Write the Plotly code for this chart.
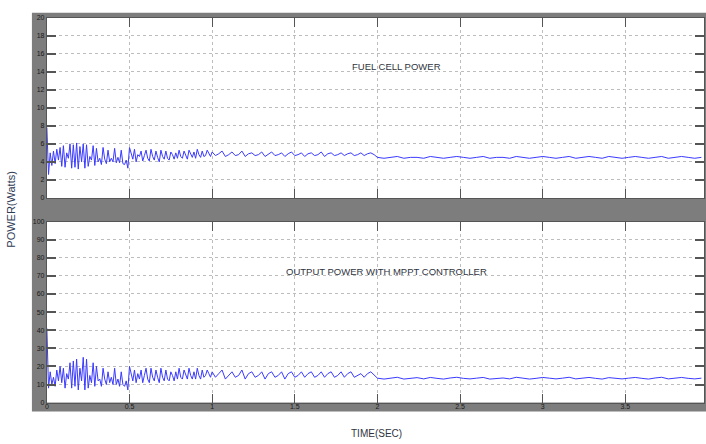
import numpy as np
import plotly.graph_objects as go

# ---- data ----
# segment A: t = 0.00 .. 0.99 step 0.01 ; B: 1.00 .. 1.98 step 0.02 ; C: 2.00 .. 3.96 step 0.04
fc_seg_a = [7.8, 2.6, 5.0, 3.6, 5.2, 3.8, 5.4, 4.2, 5.6, 3.5,
            5.8, 3.4, 5.0, 4.4, 6.0, 3.3, 5.9, 3.4, 6.1, 3.2,
            5.7, 4.0, 6.0, 3.3, 5.9, 3.5, 4.6, 4.2, 5.8, 3.6,
            5.5, 4.0, 4.4, 3.7, 5.6, 4.3, 3.8, 5.3, 4.0, 4.4,
            4.0, 5.5, 3.9, 4.5, 3.9, 5.3, 3.8, 3.7, 4.2, 3.3,
            5.6, 4.8, 4.3, 5.4, 4.0, 4.8, 4.6, 5.2, 4.1, 4.7,
            5.3, 4.4, 4.1, 5.4, 4.6, 4.2, 5.2, 4.5, 4.0, 5.3,
            4.6, 4.3, 5.2, 4.4, 4.2, 5.1, 4.8, 4.3, 5.0, 4.4,
            5.3, 4.6, 4.4, 5.2, 4.7, 4.3, 5.3, 4.9, 4.5, 5.1,
            4.4, 5.4, 4.8, 4.5, 5.2, 4.6, 4.7, 5.3, 4.9, 4.6]
fc_seg_b = [5.1, 4.7, 4.9, 5.2, 4.6, 4.8, 5.1, 4.7, 4.8, 5.2,
            4.6, 4.9, 5.0, 4.7, 4.8, 5.1, 4.6, 4.9, 5.1, 4.7,
            4.8, 5.0, 4.6, 4.9, 5.1, 4.7, 4.8, 5.0, 4.6, 4.9,
            5.0, 4.7, 4.8, 5.1, 4.6, 4.9, 5.0, 4.7, 4.8, 5.0,
            4.7, 4.9, 5.0, 4.7, 4.8, 5.0, 4.7, 4.9, 5.0, 4.8]
fc_seg_c = [4.5, 4.4, 4.5, 4.6, 4.4, 4.5, 4.5, 4.4, 4.6, 4.5,
            4.4, 4.5, 4.6, 4.5, 4.4, 4.5, 4.6, 4.4, 4.5, 4.5,
            4.4, 4.6, 4.5, 4.4, 4.5, 4.6, 4.5, 4.4, 4.5, 4.6,
            4.4, 4.5, 4.6, 4.5, 4.4, 4.6, 4.5, 4.4, 4.5, 4.6,
            4.5, 4.4, 4.5, 4.6, 4.4, 4.5, 4.6, 4.5, 4.4, 4.5]

out_seg_a = [41, 8, 17, 10, 14, 9, 18, 12, 20, 11,
             19, 8, 16, 13, 22, 8, 23, 9, 24, 7,
             19, 12, 25, 7, 24, 8, 15, 11, 22, 9,
             20, 12, 13, 9, 19, 13, 10, 17, 11, 14,
             10, 19, 10, 13, 9, 17, 10, 9, 12, 7,
             20, 15, 12, 18, 11, 16, 13, 18, 11, 15,
             19, 13, 11, 19, 14, 12, 18, 14, 11, 19,
             14, 12, 18, 13, 12, 17, 15, 12, 17, 13,
             19, 14, 13, 18, 15, 13, 19, 15, 13, 17,
             13, 19, 15, 13, 18, 14, 15, 18, 16, 14]
out_seg_b = [17, 14, 16, 18, 13, 15, 17, 14, 15, 18,
             13, 16, 17, 14, 15, 17, 13, 16, 17, 14,
             15, 17, 13, 16, 17, 14, 15, 17, 14, 16,
             17, 14, 15, 17, 14, 16, 17, 14, 15, 17,
             14, 16, 17, 14, 15, 16, 14, 16, 17, 15]
out_seg_c = [13.5, 13.0, 13.5, 14.0, 13.0, 13.5, 13.8, 13.1, 13.9, 13.4,
             13.0, 13.6, 14.0, 13.4, 13.1, 13.5, 13.9, 13.0, 13.5, 13.6,
             13.1, 14.0, 13.5, 13.0, 13.4, 13.9, 13.5, 13.1, 13.5, 14.0,
             13.1, 13.6, 13.9, 13.4, 13.0, 13.8, 13.5, 13.1, 13.5, 13.9,
             13.4, 13.0, 13.6, 14.0, 13.1, 13.5, 13.9, 13.4, 13.1, 13.5]

x_tick_vals = [0, 0.5, 1, 1.5, 2, 2.5, 3, 3.5]
x_tick_text = ["0", "0.5", "1", "1.5", "2", "2.5", "3", "3.5"]
top_y_ticks = [0, 2, 4, 6, 8, 10, 12, 14, 16, 18, 20]
bot_y_ticks = [0, 10, 20, 30, 40, 50, 60, 70, 80, 90, 100]

# time grid
t = np.concatenate([np.arange(100) * 0.01, 1.0 + np.arange(50) * 0.02, 2.0 + np.arange(50) * 0.04])
fc_power = fc_seg_a + fc_seg_b + fc_seg_c
out_power = out_seg_a + out_seg_b + out_seg_c

W, H = 706, 444
def px(x):
    return x / W
def py(y):
    return (H - y) / H

LINE = "#3a3aff"
GRAY = "#7d7d7d"
GRID = "#bdbdbd"
FONT = "Liberation Sans Narrow, Liberation Sans, Arial"

fig = go.Figure()
fig.add_trace(go.Scatter(x=t, y=fc_power, mode="lines", line=dict(color=LINE, width=1),
                         xaxis="x", yaxis="y", showlegend=False, hoverinfo="skip"))
fig.add_trace(go.Scatter(x=t, y=out_power, mode="lines", line=dict(color=LINE, width=1),
                         xaxis="x2", yaxis="y2", showlegend=False, hoverinfo="skip"))

xcommon = dict(range=[0, 3.976], tickvals=x_tick_vals, ticks="inside", ticklen=9,
               tickcolor="#555", tickwidth=1, mirror="ticks", showline=True, linecolor="#555",
               showgrid=True, gridcolor=GRID, griddash="dot", gridwidth=1,
               zeroline=False, domain=[px(45), px(704)])
ycommon = dict(ticks="inside", ticklen=9, tickcolor="#555", tickwidth=1.5, mirror="ticks",
               showline=True, linecolor="#555", showgrid=True, gridcolor=GRID,
               griddash="dot", gridwidth=1, zeroline=False,
               tickfont=dict(size=7, color="#1a1a1a", family=FONT), ticklabelstandoff=0)

fig.update_layout(
    width=W, height=H,
    margin=dict(l=0, r=0, t=0, b=0),
    paper_bgcolor="white", plot_bgcolor="white",
    xaxis=dict(**xcommon, anchor="y", showticklabels=False),
    yaxis=dict(**ycommon, range=[0, 20], tickvals=top_y_ticks, domain=[py(197), py(14)], anchor="x"),
    xaxis2=dict(**xcommon, anchor="y2", ticktext=x_tick_text, showticklabels=True,
                tickfont=dict(size=7, color="#1a1a1a", family=FONT), ticklabelstandoff=-3),
    yaxis2=dict(**ycommon, range=[0, 100], tickvals=bot_y_ticks, domain=[py(405), py(221)], anchor="x2"),
    shapes=[
        dict(type="rect", xref="paper", yref="paper", x0=px(30), x1=1, y0=py(414), y1=py(9),
             fillcolor=GRAY, line=dict(width=0), layer="below"),
        dict(type="rect", xref="paper", yref="paper", x0=px(45), x1=px(704), y0=py(197), y1=py(14),
             fillcolor="white", line=dict(width=0), layer="below"),
        dict(type="rect", xref="paper", yref="paper", x0=px(45), x1=px(704), y0=py(405), y1=py(221),
             fillcolor="white", line=dict(width=0), layer="below"),
    ],
    annotations=[
        dict(text="FUEL CELL POWER", xref="paper", yref="paper", x=px(396), y=py(63),
             xanchor="center", yanchor="middle",
             showarrow=False, font=dict(size=9.5, color="#2f3440", family=FONT)),
        dict(text="OUTPUT POWER WITH MPPT CONTROLLER", xref="paper", yref="paper", x=px(386), y=py(272),
             xanchor="center", yanchor="middle",
             showarrow=False, font=dict(size=9.5, color="#2f3440", family=FONT)),
        dict(text="POWER(Watts)", xref="paper", yref="paper", x=px(9), y=py(208), textangle=-90,
             xanchor="center", yanchor="middle",
             showarrow=False, font=dict(size=11, color="#2f3a55", family=FONT)),
        dict(text="TIME(SEC)", xref="paper", yref="paper", x=px(376), y=py(436),
             xanchor="center", yanchor="middle",
             showarrow=False, font=dict(size=10, color="#2f3440", family=FONT)),
    ],
)

fig.write_html("out.html", config={"displayModeBar": False},
               post_script="document.body.style.margin='0';")
